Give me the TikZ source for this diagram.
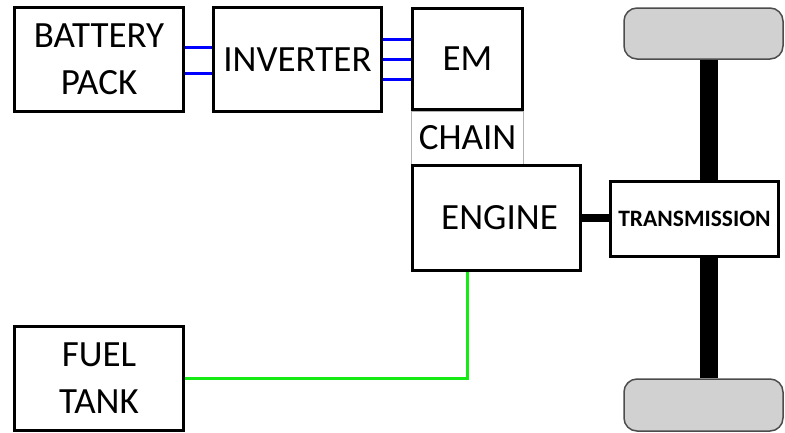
\documentclass[tikz,border=0pt]{standalone}
\usepackage{fontspec}
\setmainfont{Carlito}
\usetikzlibrary{backgrounds}
\definecolor{fuelgreen}{RGB}{20,235,20}
\begin{document}
\begin{tikzpicture}[x=1pt,y=-1pt,
  box/.style={draw=black,line width=3pt,fill=white,inner sep=0pt,align=center,
    font=\fontsize{37}{47}\selectfont},
  chainbox/.style={draw=black!30,line width=1pt,inner sep=0pt,
    font=\fontsize{37}{47}\selectfont},
  wheel/.style={draw=black!70,line width=1.5pt,fill=black!18,rounded corners=13pt,inner sep=0pt},
  hv/.style={blue,line width=3pt},
  fuelline/.style={fuelgreen,line width=3pt},
  shaft/.style={line width=8pt,black},
  axle/.style={line width=18pt,black}]
\useasboundingbox (0,0) rectangle (785,432);
\node[chainbox,minimum width=112pt,minimum height=53pt] (chain) at (467.5,137.5) {CHAIN};
\node[box,minimum width=169pt,minimum height=104pt] (battery) at (99,59.5) {BATTERY\\PACK};
\node[box,minimum width=168pt,minimum height=104pt] (inverter) at (297.5,59.5) {INVERTER};
\node[box,minimum width=110pt,minimum height=101pt] (em) at (467.5,59) {EM};
\node[box,minimum width=168pt,minimum height=105pt] (engine) at (496.5,218) {\hspace*{6pt}ENGINE};
\node[box,minimum width=168pt,minimum height=75pt,font=\fontsize{23.5}{28}\selectfont\bfseries] (trans) at (694.5,219) {TRANSMISSION};
\node[box,minimum width=169pt,minimum height=104pt] (fuel) at (99,378.5) {FUEL\\TANK};
\node[wheel,minimum width=159pt,minimum height=51pt] (topwheel) at (703.5,33.5) {};
\node[wheel,minimum width=159pt,minimum height=52pt] (botwheel) at (703.5,405) {};
\coordinate (ax) at (709,0);
\coordinate (fx) at (467,0);
\begin{scope}[on background layer]
\draw[axle] (topwheel.south -| ax) -- (trans.north -| ax);
\draw[axle] (trans.south -| ax) -- (botwheel.north -| ax);
\end{scope}
\draw[hv] ([yshift=12.5pt]battery.east) -- ([yshift=12.5pt]inverter.west);
\draw[hv] ([yshift=-13.5pt]battery.east) -- ([yshift=-13.5pt]inverter.west);
\draw[hv] ([yshift=20pt]em.west -| inverter.east) -- ([yshift=20pt]em.west);
\draw[hv] (em.west -| inverter.east) -- (em.west);
\draw[hv] ([yshift=-20pt]em.west -| inverter.east) -- ([yshift=-20pt]em.west);
\draw[shaft] (engine.east) -- (engine.east -| trans.west);
\draw[fuelline] (fuel.east) -| (engine.south -| fx);
\end{tikzpicture}
\end{document}
